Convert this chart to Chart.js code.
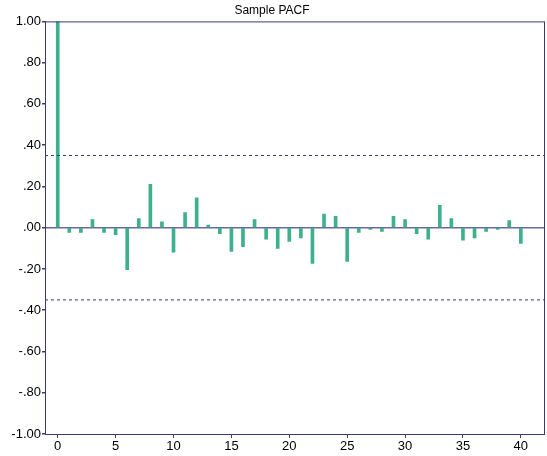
<!DOCTYPE html>
<html>
<head>
<meta charset="utf-8">
<script src="https://cdn.jsdelivr.net/npm/chart.js@4"></script>
<style>
  html, body { margin: 0; padding: 0; background: #fff; }
  #wrap { width: 547px; height: 456px; }
</style>
</head>
<body>
<div id="wrap"><canvas id="pacfChart"></canvas></div>
<script>
/************ DATA ************/
const lags = [
  0, 1, 2, 3, 4, 5, 6, 7, 8, 9, 10, 11, 12, 13, 14, 15, 16, 17, 18, 19, 20,
  21, 22, 23, 24, 25, 26, 27, 28, 29, 30, 31, 32, 33, 34, 35, 36, 37, 38, 39, 40,
];
const pacfValues = [
  1.0, -0.023, -0.023, 0.039, -0.023, -0.034, -0.203, 0.044, 0.21, 0.029,
  -0.119, 0.073, 0.145, 0.013, -0.029, -0.115, -0.092, 0.039, -0.055, -0.1,
  -0.066, -0.05, -0.173, 0.066, 0.055, -0.163, -0.023, -0.008, -0.018, 0.055,
  0.039, -0.029, -0.056, 0.108, 0.044, -0.061, -0.05, -0.018, -0.008, 0.034,
  -0.076,
];
const confBound = 0.35;
const xRange = [-1.1, 42];
const xTicks = [0, 5, 10, 15, 20, 25, 30, 35, 40];
const yTicks = [-1, -0.8, -0.6, -0.4, -0.2, 0, 0.2, 0.4, 0.6, 0.8, 1];

const navy = "#3a3a78";
const font = { family: "'Liberation Sans Narrow', 'Liberation Sans', Arial", size: 13 };

function fmtY(v) {
  const s = Math.abs(v).toFixed(2).replace(/^0/, "");
  return (v < 0 ? "-" : "") + s;
}

/************ FRAME PLUGIN ************/
const framePlugin = {
  id: "frame",
  afterDraw(chart) {
    const { ctx, chartArea: a } = chart;
    ctx.save();
    ctx.strokeStyle = navy;
    ctx.lineWidth = 1;
    ctx.strokeRect(a.left + 0.5, a.top + 0.5, a.right - a.left, a.bottom - a.top);
    ctx.restore();
  },
};

/************ CHART ************/
const ctx = document.getElementById("pacfChart").getContext("2d");
new Chart(ctx, {
  type: "bar",
  data: {
    datasets: [
      {
        label: "PACF",
        data: lags.map((l, i) => ({ x: l, y: pacfValues[i] })),
        backgroundColor: "#3db08f",
        barThickness: 3,
        order: 2,
      },
      {
        type: "line",
        label: "upper",
        data: xRange.map((x) => ({ x: x, y: confBound })),
        borderColor: navy,
        borderWidth: 1,
        borderDash: [3, 3],
        pointRadius: 0,
        order: 1,
      },
      {
        type: "line",
        label: "lower",
        data: xRange.map((x) => ({ x: x, y: -confBound })),
        borderColor: navy,
        borderWidth: 1,
        borderDash: [3, 3],
        pointRadius: 0,
        order: 1,
      },
    ],
  },
  options: {
    responsive: true,
    maintainAspectRatio: false,
    animation: false,
    layout: { padding: { left: 0, right: 3, top: 1, bottom: 0 } },
    plugins: {
      legend: { display: false },
      tooltip: { enabled: false },
      title: {
        display: true,
        text: "Sample PACF",
        color: "#000",
        font: { family: font.family, size: 12, weight: "normal" },
        padding: { top: 2, bottom: 4 },
      },
    },
    scales: {
      x: {
        type: "linear",
        min: xRange[0],
        max: xRange[1],
        offset: false,
        afterBuildTicks: (s) => { s.ticks = xTicks.map((v) => ({ value: v })); },
        afterFit: (s) => { s.height = 22; },
        grid: { offset: false, drawOnChartArea: false, tickLength: 4, tickColor: navy },
        border: { color: navy },
        ticks: { color: "#000", font: font, padding: 1, maxRotation: 0 },
      },
      y: {
        min: -1,
        max: 1,
        afterBuildTicks: (s) => { s.ticks = yTicks.map((v) => ({ value: v })); },
        afterFit: (s) => { s.width = 45; },
        grid: {
          color: (c) => (c.tick && c.tick.value === 0 ? "#6a6a9a" : "transparent"),
          lineWidth: 1.5,
          tickLength: 3,
          tickColor: navy,
        },
        border: { color: navy },
        ticks: { color: "#000", font: font, padding: 1, callback: (v) => fmtY(v) },
      },
    },
  },
  plugins: [framePlugin],
});
</script>
</body>
</html>
